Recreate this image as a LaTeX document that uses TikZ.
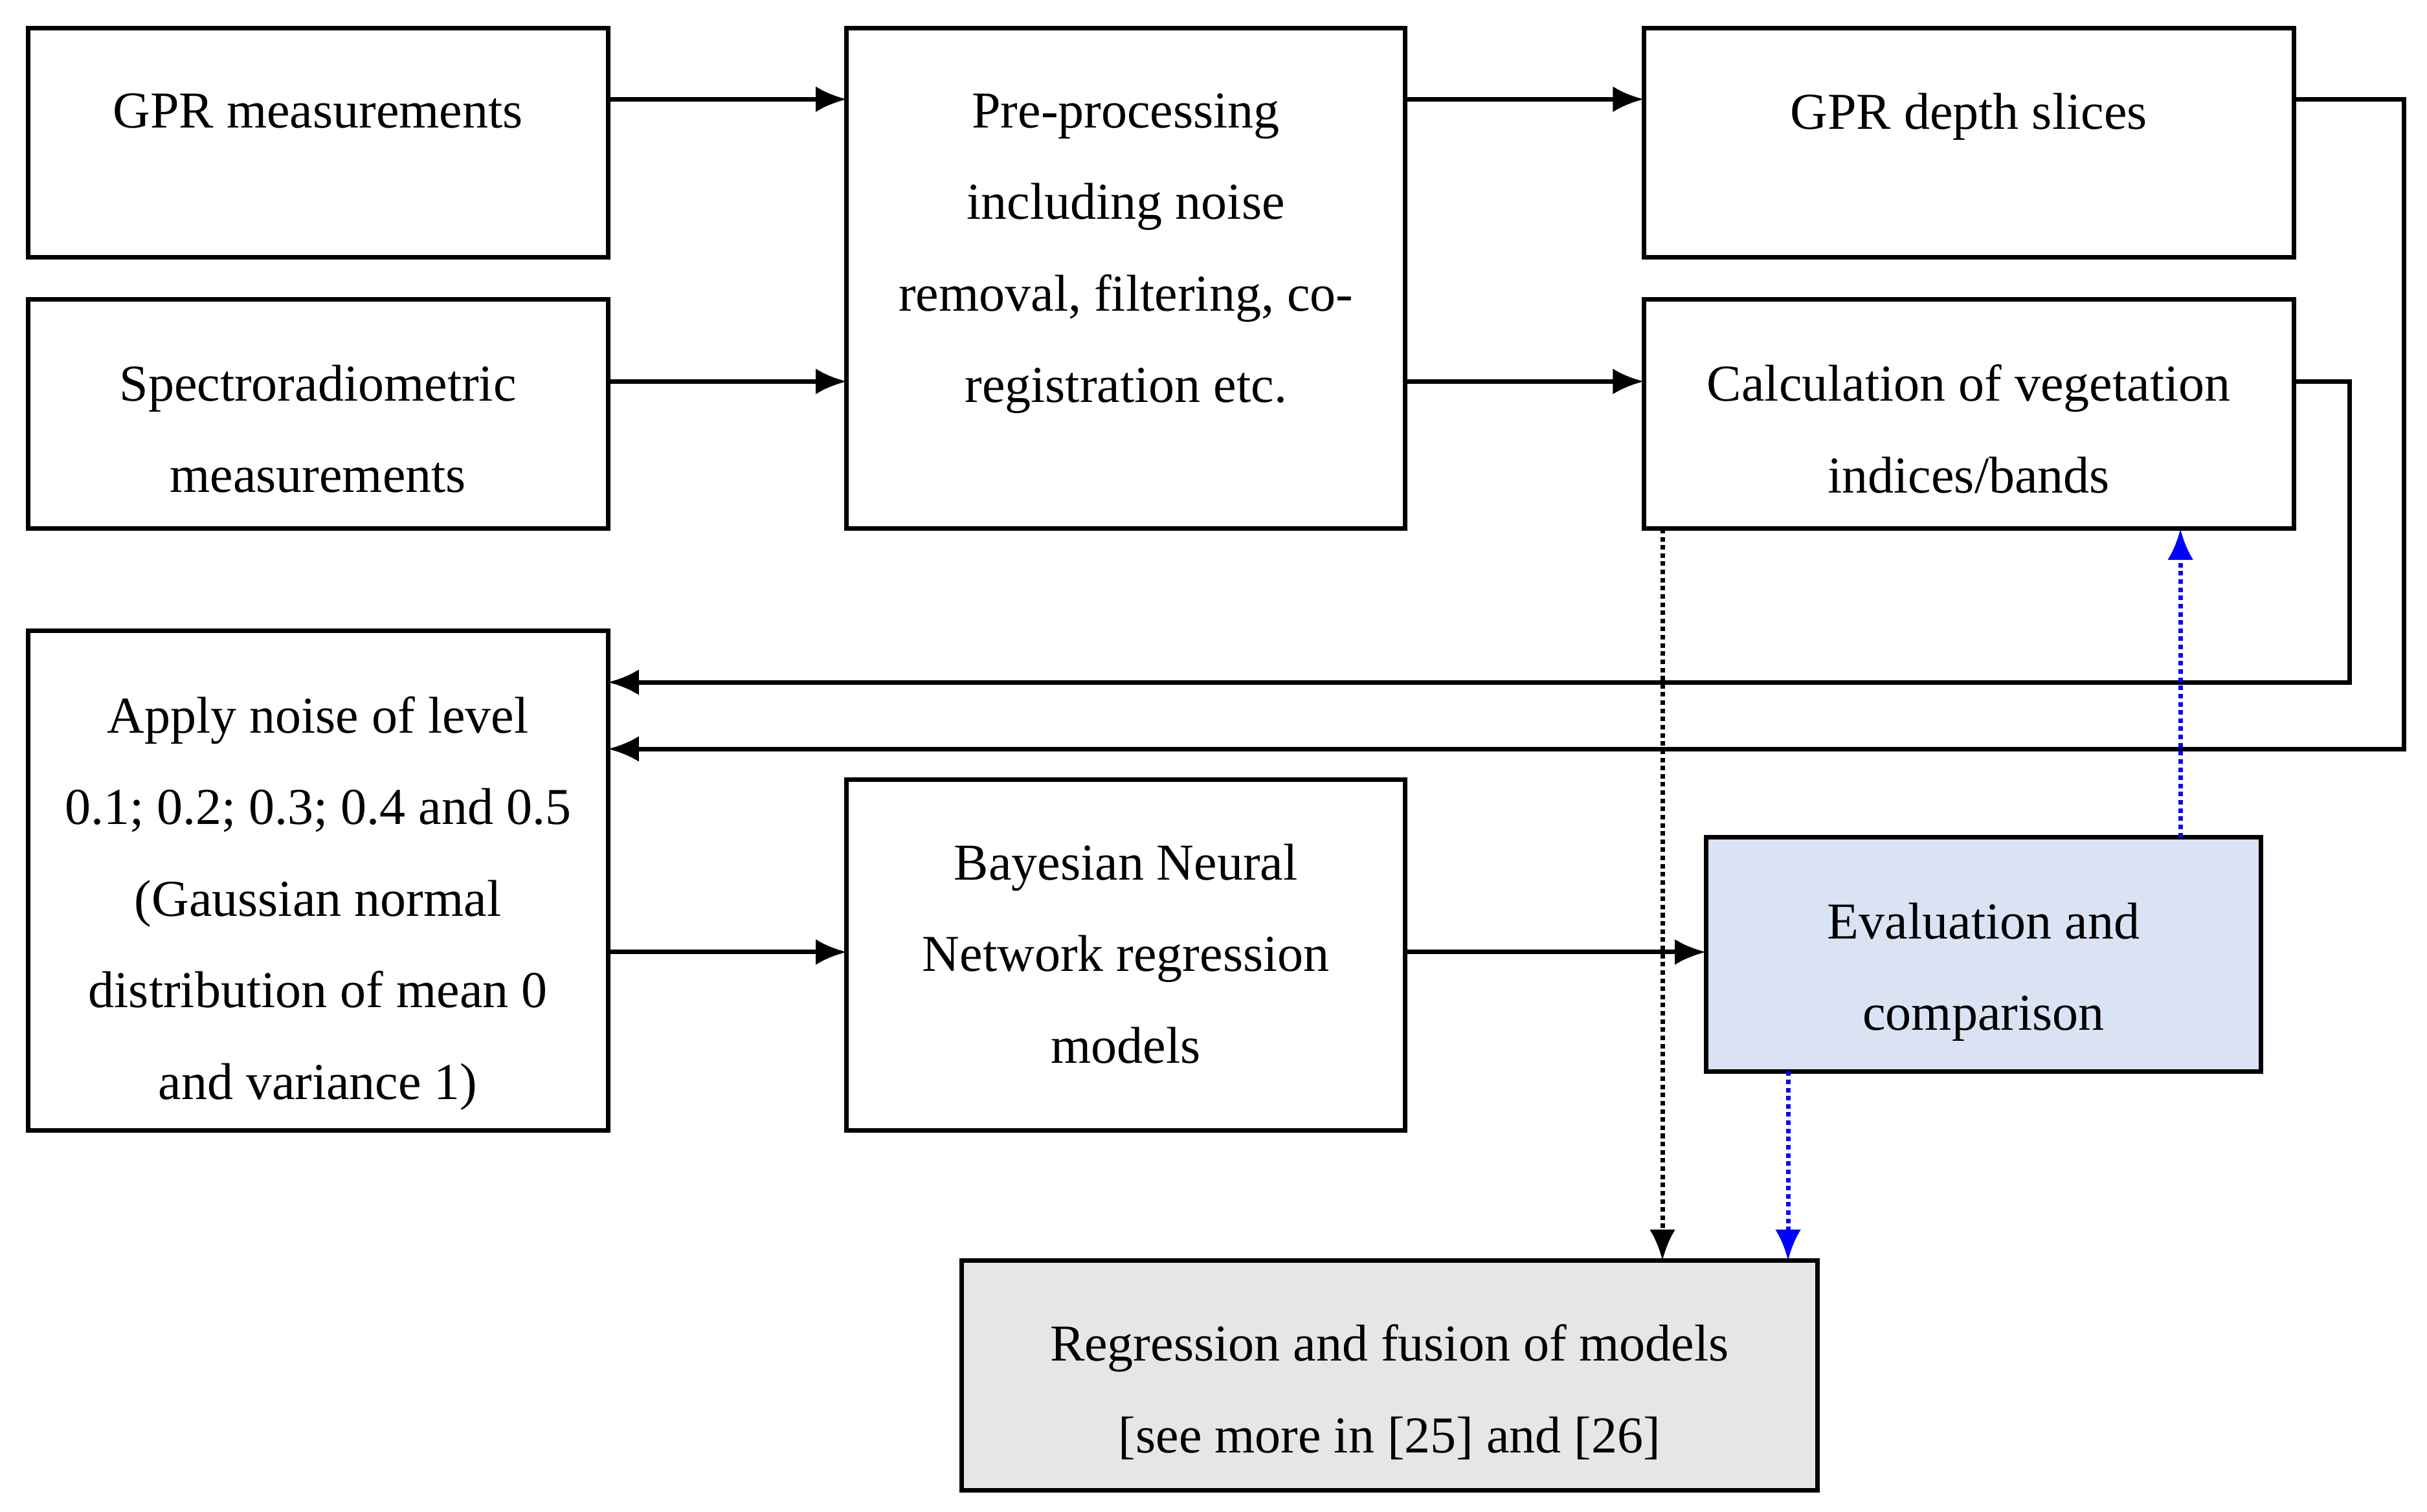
\documentclass[tikz,border=0pt]{standalone}
\usepackage{fontspec}
\setmainfont{Liberation Serif}
\usetikzlibrary{arrows.meta}
\begin{document}
\begin{tikzpicture}[x=0.03cm,y=-0.03cm,
 box/.style={draw,line width=2.5pt,inner sep=0,minimum height=4.44cm},
 txt/.style={anchor=north,align=center,inner sep=0,font=\fontsize{28.5}{50.4}\selectfont},
 arr/.style={line width=2.5pt,-{Latex[length=0.6cm,width=0.5cm]}},
 dot/.style={line width=2.5pt,dotted,-{Latex[length=0.6cm,width=0.5cm]}}]
\useasboundingbox (0,0) rectangle (1565,975);
\node[box,minimum width=11.22cm] (A) at (205,92) {};
\node[box,minimum width=11.22cm] (B) at (205,267) {};
\node[box,minimum width=10.8cm,minimum height=9.69cm] (C) at (726,179.5) {};
\node[box,minimum width=12.57cm] (D) at (1269.5,92) {};
\node[box,minimum width=12.57cm] (E) at (1269.5,267) {};
\node[box,minimum width=11.22cm,minimum height=9.66cm] (F) at (205,568) {};
\node[box,minimum width=10.8cm,minimum height=6.78cm] (G) at (726,616) {};
\node[box,minimum width=10.74cm,minimum height=4.53cm,fill={rgb,255:red,218;green,227;blue,243}] (H) at (1279,615.5) {};
\node[box,minimum width=16.56cm,fill={rgb,255:red,230;green,230;blue,230}] (I) at (896,887) {};
\node[txt] (tA) at (205,60) {GPR measurements};
\node[txt] (tB) at (205,235) {Spectroradiometric\\measurements};
\node[txt] (tC) at (726,60) {Pre-processing\\including noise\\removal, filtering, co-\\registration etc.};
\node[txt] (tD) at (1269.5,60) {GPR depth slices};
\node[txt] (tE) at (1269.5,235) {Calculation of vegetation\\indices/bands};
\node[txt] (tF) at (205,449) {Apply noise of level\\0.1; 0.2; 0.3; 0.4 and 0.5\\(Gaussian normal\\distribution of mean 0\\and variance 1)};
\node[txt] (tG) at (726,544) {Bayesian Neural\\Network regression\\models};
\node[txt] (tH) at (1279,582) {Evaluation and\\comparison};
\node[txt] (tI) at (896,854) {Regression and fusion of models\\{[see more in [25] and [26]}};
\coordinate (a1) at (392,64); \coordinate (a2) at (546,64);
\draw[arr] (a1) -- (a2);
\coordinate (b1) at (392,246); \coordinate (b2) at (546,246);
\draw[arr] (b1) -- (b2);
\coordinate (c1) at (906,64); \coordinate (c2) at (1060,64);
\draw[arr] (c1) -- (c2);
\coordinate (c3) at (906,246); \coordinate (c4) at (1060,246);
\draw[arr] (c3) -- (c4);
\coordinate (e1) at (1479,246); \coordinate (e2) at (392,440);
\draw[arr] (e1) -- (1515,246) -- (1515,440) -- (e2);
\coordinate (d1) at (1479,64); \coordinate (d2) at (392,483);
\draw[arr] (d1) -- (1550,64) -- (1550,483) -- (d2);
\coordinate (f1) at (392,614); \coordinate (f2) at (546,614);
\draw[arr] (f1) -- (f2);
\coordinate (g1) at (906,614); \coordinate (g2) at (1100,614);
\draw[arr] (g1) -- (g2);
\coordinate (h1) at (1406,540); \coordinate (h2) at (1406,341);
\draw[dot,blue] (h1) -- (h2);
\coordinate (h3) at (1153,691); \coordinate (h4) at (1153,813);
\draw[dot,blue] (h3) -- (h4);
\coordinate (e3) at (1072,341); \coordinate (e4) at (1072,813);
\draw[dot] (e3) -- (e4);
\end{tikzpicture}
\end{document}
